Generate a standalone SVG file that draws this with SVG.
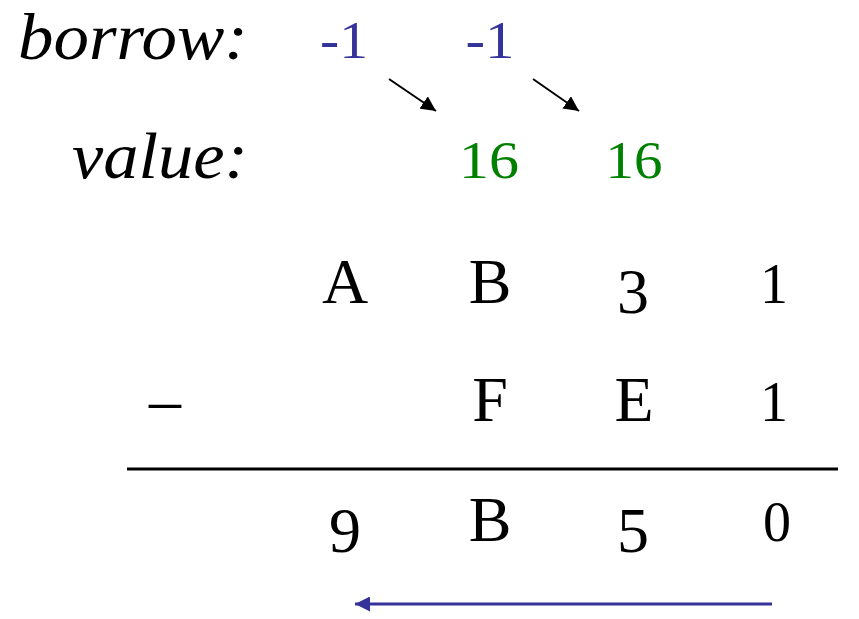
<svg xmlns="http://www.w3.org/2000/svg" width="859" height="619" viewBox="0 0 859 619">
<style>
.lbl{font-family:"Liberation Serif","DejaVu Serif",serif;font-style:italic;font-size:65px;fill:#000}
.dig{font-family:"Liberation Serif","DejaVu Serif",serif;font-size:64px;fill:#000;text-anchor:middle}
.sm{font-size:56px}
.bor{font-family:"Liberation Serif","DejaVu Serif",serif;font-size:52px;fill:#333399;text-anchor:middle}
.val{font-family:"Liberation Serif","DejaVu Serif",serif;font-size:53px;fill:#008000;text-anchor:middle}
</style>
<defs>
<marker id="ah" viewBox="0 0 10 10" refX="10" refY="5" markerWidth="7.5" markerHeight="7.5" orient="auto"><path d="M0,0 L10,5 L0,10 z" fill="#000"/></marker>
<marker id="ahb" viewBox="0 0 10 10" refX="10" refY="5" markerWidth="5.5" markerHeight="5" orient="auto"><path d="M0,0 L10,5 L0,10 z" fill="#333399"/></marker>
</defs>
<g id="labels">
<text class="lbl" x="18" y="59" textLength="230" lengthAdjust="spacingAndGlyphs">borrow:</text>
<text class="lbl" x="72" y="178" textLength="176" lengthAdjust="spacingAndGlyphs">value:</text>
</g>
<g id="borrow">
<text class="bor" x="344" y="58" textLength="48" lengthAdjust="spacingAndGlyphs">-1</text>
<text class="bor" x="490" y="58" textLength="49" lengthAdjust="spacingAndGlyphs">-1</text>
</g>
<g id="value">
<text class="val" x="489" y="178" textLength="60" lengthAdjust="spacingAndGlyphs">16</text>
<text class="val" x="634" y="178" textLength="57" lengthAdjust="spacingAndGlyphs">16</text>
</g>
<g id="row1">
<text class="dig" x="345" y="303">A</text>
<text class="dig" x="490" y="303">B</text>
<text class="dig" x="633" y="313">3</text>
<text class="dig sm" x="774" y="303">1</text>
</g>
<g id="row2">
<text class="dig" x="165" y="421">–</text>
<text class="dig" x="490" y="421">F</text>
<text class="dig" x="634" y="421">E</text>
<text class="dig sm" x="774" y="421">1</text>
</g>
<g id="row3">
<text class="dig" x="345" y="552">9</text>
<text class="dig" x="490" y="541">B</text>
<text class="dig" x="633" y="552">5</text>
<text class="dig sm" x="777" y="541">0</text>
</g>
<g id="connectors">
<line x1="389" y1="79" x2="436" y2="111" stroke="#000" stroke-width="2" marker-end="url(#ah)"/>
<line x1="533" y1="79" x2="579" y2="111" stroke="#000" stroke-width="2" marker-end="url(#ah)"/>
<line x1="127" y1="469" x2="838" y2="469" stroke="#000" stroke-width="3"/>
<line x1="772" y1="604" x2="355" y2="604" stroke="#333399" stroke-width="3" marker-end="url(#ahb)"/>
</g>
</svg>
